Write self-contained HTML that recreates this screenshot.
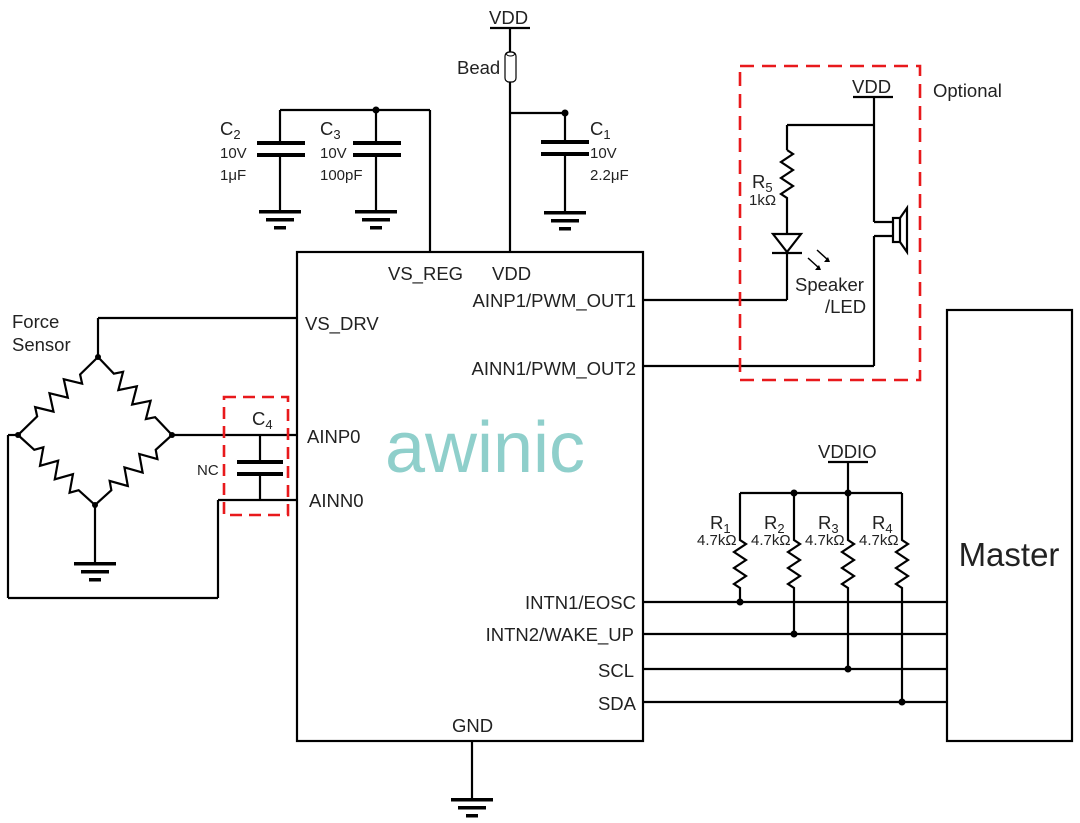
<!DOCTYPE html>
<html><head><meta charset="utf-8"><style>
html,body{margin:0;padding:0;background:#fff}
svg{display:block}
text{font-family:"Liberation Sans",Arial,sans-serif;fill:#222}
</style></head><body>
<svg width="1080" height="823" viewBox="0 0 1080 823" xmlns="http://www.w3.org/2000/svg">
<g stroke="#000" stroke-width="2.2" fill="none">
<rect x="297" y="252" width="346" height="489"/>
<rect x="947" y="310" width="125" height="431"/>
<line x1="490" y1="28" x2="530" y2="28"/>
<line x1="510" y1="28" x2="510" y2="52"/>
<rect x="505" y="52" width="11" height="30" rx="4" stroke-width="1.2"/>
<ellipse cx="510.5" cy="54" rx="4" ry="2" stroke-width="1"/>
<line x1="510" y1="82" x2="510" y2="252"/>
<line x1="510" y1="113" x2="565" y2="113"/>
<line x1="565" y1="113" x2="565" y2="141"/>
<line x1="565" y1="155" x2="565" y2="211"/>
<line x1="430" y1="252" x2="430" y2="110"/>
<line x1="280" y1="110" x2="430" y2="110"/>
<line x1="280" y1="110" x2="280" y2="144"/>
<line x1="280" y1="156" x2="280" y2="210"/>
<line x1="376" y1="110" x2="376" y2="144"/>
<line x1="376" y1="156" x2="376" y2="210"/>
<line x1="98" y1="318" x2="297" y2="318"/>
<line x1="98" y1="318" x2="98" y2="357"/>
<line x1="172" y1="435" x2="297" y2="435"/>
<line x1="218" y1="500" x2="297" y2="500"/>
<line x1="218" y1="500" x2="218" y2="598"/>
<line x1="8" y1="598" x2="218" y2="598"/>
<line x1="8" y1="598" x2="8" y2="435"/>
<line x1="8" y1="435" x2="18" y2="435"/>
<line x1="95" y1="505" x2="95" y2="562"/>
<line x1="260" y1="435" x2="260" y2="461"/>
<line x1="260" y1="475" x2="260" y2="500"/>
<line x1="472" y1="741" x2="472" y2="799"/>
<line x1="643" y1="300" x2="787" y2="300"/>
<line x1="787" y1="300" x2="787" y2="253"/>
<line x1="787" y1="233" x2="787" y2="200"/>
<line x1="787" y1="150" x2="787" y2="125"/>
<line x1="787" y1="125" x2="874" y2="125"/>
<line x1="853" y1="97" x2="893" y2="97"/>
<line x1="874" y1="97" x2="874" y2="222"/>
<line x1="874" y1="222" x2="893" y2="222"/>
<line x1="874" y1="236" x2="893" y2="236"/>
<line x1="874" y1="236" x2="874" y2="366"/>
<line x1="643" y1="366" x2="874" y2="366"/>
<line x1="828" y1="462" x2="868" y2="462"/>
<line x1="848" y1="462" x2="848" y2="493"/>
<line x1="740" y1="493" x2="902" y2="493"/>
<line x1="643" y1="602" x2="947" y2="602"/>
<line x1="643" y1="634" x2="947" y2="634"/>
<line x1="643" y1="669" x2="947" y2="669"/>
<line x1="643" y1="702" x2="947" y2="702"/>
</g>
<g fill="#000">
<rect x="257" y="141" width="48" height="4"/><rect x="257" y="153" width="48" height="4"/>
<rect x="353" y="141" width="48" height="4"/><rect x="353" y="153" width="48" height="4"/>
<rect x="541" y="140" width="48" height="4"/><rect x="541" y="152" width="48" height="4"/>
<rect x="237" y="460" width="46" height="4"/><rect x="237" y="472" width="46" height="4"/>
</g>
<g fill="#000">
<g transform="translate(280,210)"><rect x="-21" y="0" width="42" height="3.5"/><rect x="-14" y="8" width="28" height="3.5"/><rect x="-6" y="16" width="12" height="3.5"/></g>
<g transform="translate(376,210)"><rect x="-21" y="0" width="42" height="3.5"/><rect x="-14" y="8" width="28" height="3.5"/><rect x="-6" y="16" width="12" height="3.5"/></g>
<g transform="translate(565,211)"><rect x="-21" y="0" width="42" height="3.5"/><rect x="-14" y="8" width="28" height="3.5"/><rect x="-6" y="16" width="12" height="3.5"/></g>
<g transform="translate(95,562)"><rect x="-21" y="0" width="42" height="3.5"/><rect x="-14" y="8" width="28" height="3.5"/><rect x="-6" y="16" width="12" height="3.5"/></g>
<g transform="translate(472,798)"><rect x="-21" y="0" width="42" height="3.5"/><rect x="-14" y="8" width="28" height="3.5"/><rect x="-6" y="16" width="12" height="3.5"/></g>
</g>
<g stroke="#000" stroke-width="2.2" fill="none" stroke-linejoin="miter">
<path transform="translate(98,357) rotate(135.7)" d="M0,0 L25,0 l5,-8 l10,16 l10,-16 l10,16 l10,-16 l10,16 l5,-8 L112,0"/>
<path transform="translate(98,357) rotate(46.5)" d="M0,0 L23,0 l5,-8 l10,16 l10,-16 l10,16 l10,-16 l10,16 l5,-8 L107,0"/>
<path transform="translate(18,435) rotate(42.3)" d="M0,0 L22,0 l5,-8 l10,16 l10,-16 l10,16 l10,-16 l10,16 l5,-8 L104,0"/>
<path transform="translate(172,435) rotate(137.7)" d="M0,0 L22,0 l5,-8 l10,16 l10,-16 l10,16 l10,-16 l10,16 l5,-8 L104,0"/>
<path d="M787,150 l6,4 l-12,8 l12,8 l-12,8 l12,8 l-12,8 l6,4 L787,200"/>
<path d="M740,493 L740,540 l6,4 l-12,8 l12,8 l-12,8 l12,8 l-12,8 l6,4 L740,602"/>
<path d="M794,493 L794,540 l6,4 l-12,8 l12,8 l-12,8 l12,8 l-12,8 l6,4 L794,634"/>
<path d="M848,493 L848,540 l6,4 l-12,8 l12,8 l-12,8 l12,8 l-12,8 l6,4 L848,669"/>
<path d="M902,493 L902,540 l6,4 l-12,8 l12,8 l-12,8 l12,8 l-12,8 l6,4 L902,702"/>
<path d="M773,234 L801,234 L787,252 Z"/>
<line x1="772" y1="253" x2="802" y2="253"/>
<line x1="817" y1="250" x2="828" y2="260" stroke-width="1.5"/>
<line x1="808" y1="258" x2="819" y2="268" stroke-width="1.5"/>
<rect x="893" y="218" width="7" height="24"/>
<path d="M900,218 L907,208 L907,252 L900,242"/>
<rect x="740" y="66" width="180" height="314" stroke="#e8191c" stroke-width="2.6" stroke-dasharray="14,8"/>
<rect x="224" y="397" width="64" height="118" stroke="#e8191c" stroke-width="2.6" stroke-dasharray="12,7"/>
</g>
<g fill="#000">
<path d="M830,262 l-6,0 l4,-5 z"/><path d="M821,270 l-6,0 l4,-5 z"/>
<circle cx="376" cy="110" r="3.5"/><circle cx="565" cy="113" r="3.5"/>
<circle cx="98" cy="357" r="3"/><circle cx="18" cy="435" r="3"/><circle cx="172" cy="435" r="3"/><circle cx="95" cy="505" r="3"/>
<circle cx="794" cy="493" r="3.5"/><circle cx="848" cy="493" r="3.5"/>
<circle cx="740" cy="602" r="3.5"/><circle cx="794" cy="634" r="3.5"/><circle cx="848" cy="669" r="3.5"/><circle cx="902" cy="702" r="3.5"/>
</g>
<g font-size="18.5">
<text x="489" y="24">VDD</text>
<text x="457" y="74">Bead</text>
<text x="388" y="280">VS_REG</text>
<text x="492" y="280">VDD</text>
<text x="305" y="330">VS_DRV</text>
<text x="307" y="443">AINP0</text>
<text x="309" y="507">AINN0</text>
<g text-anchor="end">
<text x="636" y="307">AINP1/PWM_OUT1</text>
<text x="636" y="375">AINN1/PWM_OUT2</text>
<text x="636" y="609">INTN1/EOSC</text>
<text x="634" y="641">INTN2/WAKE_UP</text>
<text x="634" y="677">SCL</text>
<text x="636" y="710">SDA</text>
</g>
<text x="452" y="732">GND</text>
<text x="12" y="328">Force</text>
<text x="12" y="351">Sensor</text>
<text x="852" y="93">VDD</text>
<text x="933" y="97">Optional</text>
<text x="795" y="291">Speaker</text>
<text x="825" y="313">/LED</text>
<text x="818" y="458">VDDIO</text>
<text x="220" y="135">C<tspan font-size="13" dy="4">2</tspan></text>
<text x="320" y="135">C<tspan font-size="13" dy="4">3</tspan></text>
<text x="590" y="135">C<tspan font-size="13" dy="4">1</tspan></text>
<text x="252" y="425">C<tspan font-size="13" dy="4">4</tspan></text>
<text x="752" y="188">R<tspan font-size="13" dy="4">5</tspan></text>
<text x="710" y="529">R<tspan font-size="13" dy="4">1</tspan></text>
<text x="764" y="529">R<tspan font-size="13" dy="4">2</tspan></text>
<text x="818" y="529">R<tspan font-size="13" dy="4">3</tspan></text>
<text x="872" y="529">R<tspan font-size="13" dy="4">4</tspan></text>
</g>
<g font-size="15">
<text x="220" y="158">10V</text><text x="220" y="180">1μF</text>
<text x="320" y="158">10V</text><text x="320" y="180">100pF</text>
<text x="590" y="158">10V</text><text x="590" y="180">2.2μF</text>
<text x="197" y="475" fill="#444">NC</text>
<text x="749" y="205">1kΩ</text>
<text x="697" y="545">4.7kΩ</text><text x="751" y="545">4.7kΩ</text><text x="805" y="545">4.7kΩ</text><text x="859" y="545">4.7kΩ</text>
</g>
<text x="1009" y="566" font-size="33" text-anchor="middle">Master</text>
<text x="485" y="472" font-size="72" text-anchor="middle" style="fill:#8fcfcb">awinic</text>
</svg>
</body></html>
